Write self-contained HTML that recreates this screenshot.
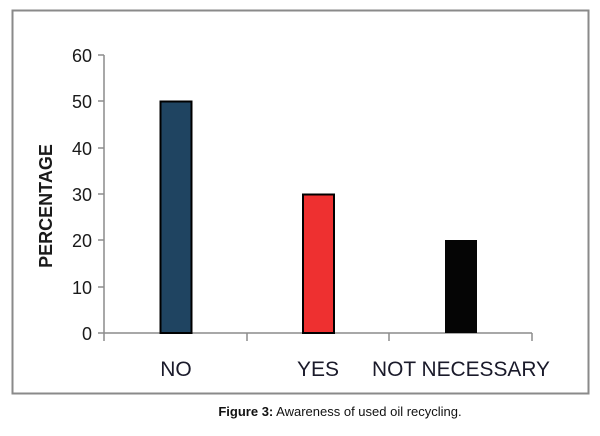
<!DOCTYPE html><html><head><style>body{margin:0;background:#fff}</style></head><body>
<svg width="600" height="431" xmlns="http://www.w3.org/2000/svg" font-family="Liberation Sans, sans-serif">
<rect x="12.5" y="10.5" width="576" height="383" fill="#fff" stroke="#8a8a8a" stroke-width="2"/>
<g stroke="#8c8c8c" stroke-width="1.5" fill="none">
<line x1="104" y1="55" x2="104" y2="333"/>
<line x1="104" y1="333" x2="532" y2="333"/>
<line x1="98" y1="55" x2="104" y2="55"/><line x1="98" y1="101" x2="104" y2="101"/>
<line x1="98" y1="148" x2="104" y2="148"/><line x1="98" y1="194" x2="104" y2="194"/>
<line x1="98" y1="240" x2="104" y2="240"/><line x1="98" y1="287" x2="104" y2="287"/>
<line x1="98" y1="333" x2="104" y2="333"/>
<line x1="104" y1="333" x2="104" y2="341"/><line x1="247" y1="333" x2="247" y2="341"/>
<line x1="389" y1="333" x2="389" y2="341"/><line x1="532" y1="333" x2="532" y2="341"/>
</g>
<rect x="160.5" y="101.5" width="31" height="231.5" fill="#1f4461" stroke="#000" stroke-width="2"/>
<rect x="303" y="194.5" width="31" height="138.5" fill="#ee3030" stroke="#000" stroke-width="2"/>
<rect x="445" y="240" width="32" height="93" fill="#050505"/>
<g font-size="18" fill="#1a1a1a" text-anchor="end">
<text x="92" y="62">60</text><text x="92" y="108">50</text><text x="92" y="155">40</text>
<text x="92" y="201">30</text><text x="92" y="247">20</text><text x="92" y="294">10</text><text x="92" y="340">0</text>
</g>
<text transform="translate(52,206) rotate(-90)" text-anchor="middle" font-size="18" font-weight="bold" fill="#1a1a1a">PERCENTAGE</text>
<g font-size="21" fill="#1a1a2a" text-anchor="middle">
<text x="176" y="376">NO</text><text x="318" y="376">YES</text><text x="461" y="376" textLength="178" lengthAdjust="spacingAndGlyphs">NOT NECESSARY</text>
</g>
<text x="340" y="416" text-anchor="middle" font-size="13" fill="#111"><tspan font-weight="bold">Figure 3:</tspan>  Awareness of used oil recycling.</text>
</svg></body></html>
